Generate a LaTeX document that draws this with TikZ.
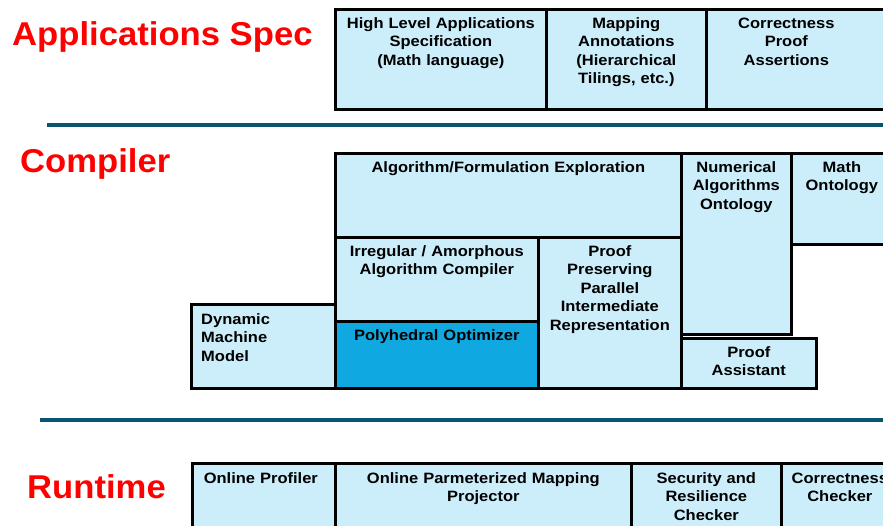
\documentclass[tikz,border=0pt]{standalone}
\usepackage{fontspec}
\setmainfont{Liberation Sans}
\newfontfamily\boxfont[FakeStretch=1.1]{Liberation Sans}
\newfontfamily\labfont[FakeStretch=1.05]{Liberation Sans}
\definecolor{lightbox}{HTML}{CCEEFA}
\definecolor{darkbox}{HTML}{10A8E0}
\definecolor{sepcol}{HTML}{0A5470}
\definecolor{labred}{HTML}{FF0000}
\newcommand\rbox[6][]{\node[box,#1,minimum width={(#4)-(#2)},minimum height={(#5)-(#3)}] (#6) at (#2,#3) {};}
\begin{document}
\begin{tikzpicture}[x=1pt,y=-1pt,
  box/.style={draw=black, line width=2.7pt, fill=lightbox, inner sep=0pt, anchor=north west, rectangle},
  dark/.style={fill=darkbox},
  txt/.style={font=\boxfont\bfseries\fontsize{15}{18.5}\selectfont, text width=320pt, align=center, anchor=base, inner sep=0pt},
  lab/.style={text=labred, font=\labfont\bfseries\fontsize{33}{36}\selectfont, anchor=base west, inner sep=0pt},
  sepline/.style={line width=4pt, draw=sepcol}]
\useasboundingbox (0,0) rectangle (883,525);

% labels
\node[lab] (lapp) at (12,45) {Applications Spec};
\node[lab] (lcomp) at (20,172) {Compiler};
\node[lab] (lrun) at (27,498) {Runtime};

% separators
\coordinate (s1a) at (47,125); \coordinate (s1b) at (883,125);
\coordinate (s2a) at (40,420); \coordinate (s2b) at (883,420);
\draw[sepline] (s1a) -- (s1b);
\draw[sepline] (s2a) -- (s2b);

% application spec row
\rbox{334}{8}{545}{108}{hl}
\rbox{545}{8}{705}{108}{map}
\rbox{705}{8}{895}{108}{corr}
\node[txt] at ([yshift=-20pt]hl.north) {High Level Applications\\Specification\\(Math language)};
\node[txt] at ([yshift=-20pt]map.north) {Mapping\\Annotations\\(Hierarchical\\Tilings, etc.)};
\node[txt] at ([yshift=-20pt,xshift=-15pt]corr.north) {Correctness\\Proof\\Assertions};

% compiler
\rbox{334}{152}{680}{236}{algo}
\rbox{334}{236}{537}{320}{irr}
\rbox[dark]{334}{320}{537}{387}{poly}
\rbox{537}{236}{680}{387}{pp}
\rbox{680}{152}{790}{333}{num}
\rbox{790}{152}{895}{243}{math}
\rbox{680}{337}{815}{387}{pa}
\rbox{190}{303}{334}{387}{dyn}
\node[txt] at ([yshift=-20pt]algo.north) {Algorithm/Formulation Exploration};
\node[txt] at ([yshift=-20pt]irr.north) {Irregular / Amorphous\\Algorithm Compiler};
\node[txt] at ([yshift=-20pt]poly.north) {Polyhedral Optimizer};
\node[txt] at ([yshift=-20pt]pp.north) {Proof\\Preserving\\Parallel\\Intermediate\\Representation};
\node[txt] at ([yshift=-20pt]num.north) {Numerical\\Algorithms\\Ontology};
\node[txt] at ([yshift=-20pt,xshift=-2pt]math.north) {Math\\Ontology};
\node[txt] at ([yshift=-20pt]pa.north) {Proof\\Assistant};
\node[txt, text width=120pt, anchor=base west, align=left] at ([yshift=-21pt,xshift=11pt]dyn.north west) {Dynamic\\Machine\\Model};

% runtime
\rbox{191}{462}{334}{540}{prof}
\rbox{334}{462}{630}{540}{proj}
\rbox{630}{462}{780}{540}{sec}
\rbox{780}{462}{895}{540}{cc}
\node[txt] at ([yshift=-21pt,xshift=-3pt]prof.north) {Online Profiler};
\node[txt] at ([yshift=-21pt]proj.north) {Online Parmeterized Mapping\\Projector};
\node[txt] at ([yshift=-21pt]sec.north) {Security and\\Resilience\\Checker};
\node[txt] at ([yshift=-21pt,xshift=1pt]cc.north) {Correctness\\Checker};
\end{tikzpicture}
\end{document}
